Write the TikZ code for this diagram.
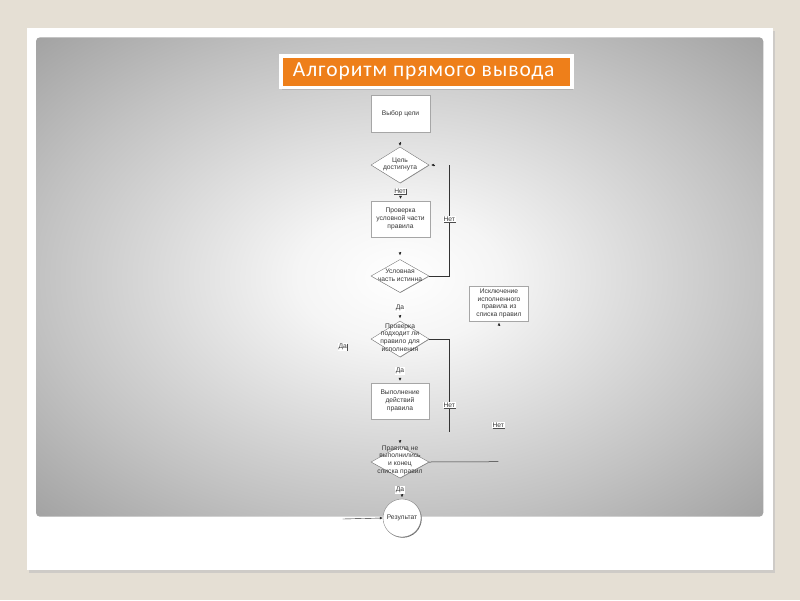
\documentclass[tikz,border=0pt]{standalone}
\usepackage{fontspec}
\setmainfont{Liberation Sans}
\newfontfamily\titlefont[LetterSpace=4.5]{Carlito}
\usetikzlibrary{shapes.geometric,shadows,arrows.meta}
\definecolor{bgbeige}{RGB}{229,223,212}
\definecolor{titleorange}{RGB}{238,127,26}
\definecolor{inkgray}{RGB}{55,55,55}
\pgfdeclareradialshading{slidebg}{\pgfpoint{0bp}{0bp}}{color(0bp)=(white); color(7bp)=(white!96!black); color(25bp)=(black!24); color(36bp)=(black!37); color(50bp)=(black!37)}
\tikzset{
  fc/.style={font=\fontsize{6.7}{7.7}\selectfont, text=inkgray, align=center},
  boxnode/.style={fc, draw=black!35, line width=0.3pt, fill=white, minimum width=59pt, minimum height=36pt, inner sep=0pt,
    drop shadow={shadow xshift=0.8pt, shadow yshift=-0.8pt, fill=black!75, opacity=1}},
  dianode/.style={diamond, draw=black!55, line width=0.35pt, fill=white, minimum width=58pt, minimum height=35pt, inner sep=0pt,
    drop shadow={shadow xshift=0.4pt, shadow yshift=-0.4pt, fill=black!45, opacity=1}},
  dtext/.style={fc, inner sep=0pt},
  lbl/.style={fc, fill=white, inner sep=0.6pt,
    drop shadow={shadow xshift=0.6pt, shadow yshift=-0.6pt, fill=black!70, opacity=1}},
  conn/.style={draw=black!80, line width=0.5pt},
  arr/.style={draw=black!85, line width=0.4pt, -{Latex[length=3pt,width=2.8pt]}},
}
\begin{document}
\begin{tikzpicture}[x=1pt,y=-1pt]
\useasboundingbox (0,0) rectangle (800,600);
% slide background
\fill[bgbeige] (0,0) rectangle (800,600);
\fill[black!25, opacity=0.6] (29,31) rectangle (775,573);
\fill[white] (26.7,28.3) rectangle (772.7,570);
\shade[shading=slidebg, rounded corners=4pt] (36,37.3) rectangle (763.3,516.7);
% title
\node[fill=titleorange, draw=white, line width=3.6pt, minimum width=291pt, minimum height=31.7pt, inner sep=0pt,
  text=white, font=\titlefont\fontsize{21.5}{21.5}\selectfont,
  drop shadow={shadow xshift=1pt, shadow yshift=-2pt, opacity=0.3}] (title) at (426.7,71.7) {\hspace*{-6pt}Алгоритм прямого вывода};
% shapes
\node[boxnode, minimum height=37pt] (b1) at (400.5,113.5) {Выбор цели};
\node[dianode, minimum height=36pt] (d1) at (400,165) {};
\node[dtext] (d1t) at (400,164.5) {Цель\\достигнута};
\node[boxnode] (b2) at (400.5,219) {Проверка\\условной части\\правила};
\node[dianode, minimum height=33pt] (d2) at (400,276) {};
\node[dtext] (d2t) at (400,275) {Условная\\часть истинна};
\node[boxnode, minimum height=35pt] (b3) at (499,303.5) {Исключение\\исполненного\\правила из\\списка правил};
\node[dianode, minimum height=36pt] (d3) at (400,339) {};
\node[dtext] (d3t) at (400,337.5) {Проверка\\подходит ли\\правило для\\исполнения};
\node[boxnode, minimum width=58pt] (b4) at (400,401) {Выполнение\\действий\\правила};
\node[dianode, minimum height=32pt] (d4) at (400,462) {};
\node[dtext] (d4t) at (400,460) {Правила не\\выполнились\\и конец\\списка правил};
\node[circle, draw=black!50, line width=0.35pt, fill=white, minimum size=38pt, inner sep=0pt, fc,
  drop shadow={shadow xshift=0.7pt, shadow yshift=-0.7pt, fill=black!60, opacity=1}] (c) at (402,518) {Результат};
% connectors
\coordinate (t1) at (449.3,165);
\coordinate (t2) at (449.3,432);
\coordinate (t3) at (498.3,461.7);
\coordinate (t4) at (342.7,519);
\draw[conn] (d2.east) -| (t1);
\draw[conn] (d3.east) -| (t2);
\draw[conn] (d4.east) -- (t3);
\draw[conn, arr] (t4) -- (c.west);
% arrow heads
\draw[arr] ([yshift=4.5pt]d1.north) -- ([yshift=1pt]d1.north);
\draw[arr] ([xshift=6pt]d1.east) -- ([xshift=2pt]d1.east);
\draw[arr] ([yshift=5pt]b2.north) -- ([yshift=2pt]b2.north);
\draw[arr] ([yshift=7.5pt]d2.north) -- ([yshift=4pt]d2.north);
\draw[arr] ([yshift=6pt]d3.north) -- ([yshift=2.5pt]d3.north);
\draw[arr] ([yshift=5pt]b4.north) -- ([yshift=2pt]b4.north);
\draw[arr] ([yshift=6pt]d4.north) -- ([yshift=2.5pt]d4.north);
\draw[arr] ([yshift=5pt]c.north) -- ([yshift=1.5pt]c.north);
\draw[arr] ([yshift=-4.5pt]b3.south) -- ([yshift=-1.5pt]b3.south);
% labels
\node[lbl] (l1) at (400,191) {Нет};
\node[lbl] (l2) at (449.3,219.3) {Нет};
\node[lbl] (l3) at (400,308) {Да};
\node[lbl] (l4) at (342.7,347) {Да};
\node[lbl] (l5) at (400,371) {Да};
\node[lbl] (l6) at (449.3,405) {Нет};
\node[lbl] (l7) at (498.3,425) {Нет};
\node[lbl] (l8) at (400,490) {Да};
\end{tikzpicture}
\end{document}
